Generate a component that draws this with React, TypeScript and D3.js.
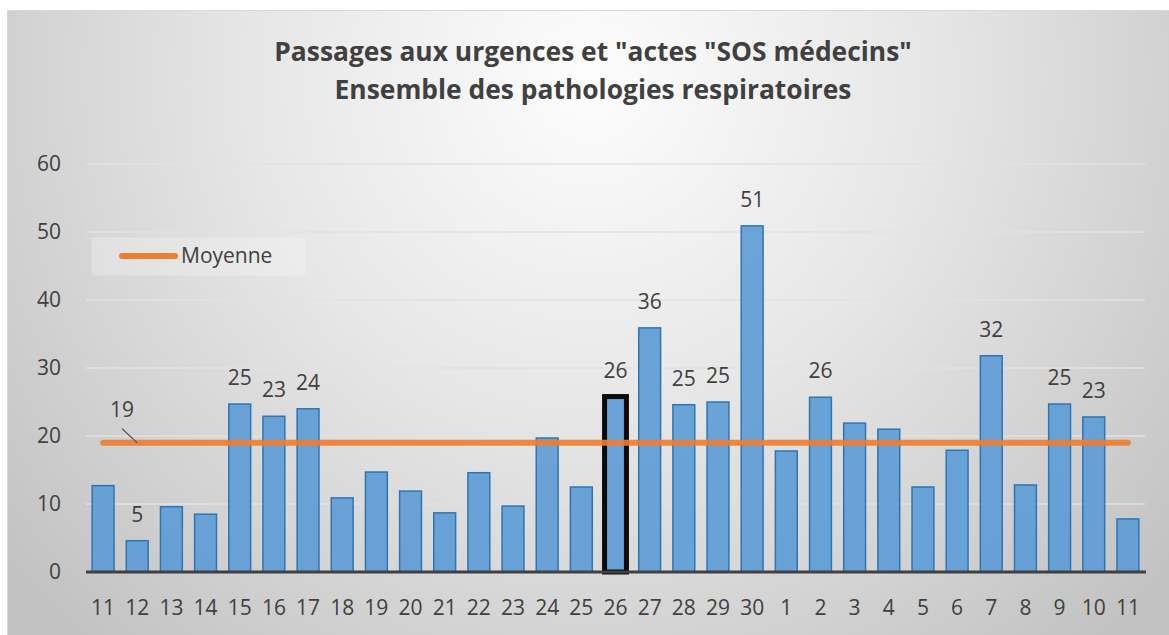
import React from "react";
import * as d3 from "d3";

// week numbers (two seasons overlap, hence repeated labels)
const weeks = ["11","12","13","14","15","16","17","18","19","20","21","22","23","24","25","26","27","28","29","30","1","2","3","4","5","6","7","8","9","10","11"];
const passages = [12.7,4.6,9.6,8.5,24.7,22.9,24.0,10.9,14.7,11.9,8.7,14.6,9.7,19.7,12.5,25.8,35.9,24.6,25.0,50.9,17.8,25.7,21.9,21.0,12.5,17.9,31.8,12.8,24.7,22.8,7.8];
const moyenne = 19;
// bars that carry a value label
const labelled = [1,4,5,6,15,16,17,18,19,21,26,28,29];
const highlighted = 15;
const yTicks = [0,10,20,30,40,50,60];

const W = 1169;
const H = 635;
const FONT = "'Open Sans', 'Noto Sans', sans-serif";
const TXT = "#404040";

export default function App() {
  const margin = { left: 86, right: 1145, top: 164, bottom: 572 };
  const x = d3.scaleBand<number>()
    .domain(d3.range(weeks.length))
    .range([margin.left, margin.right])
    .paddingInner(0.36)
    .paddingOuter(0.18);
  const y = d3.scaleLinear().domain([0, 60]).range([margin.bottom, margin.top]);
  const cx = (i: number) => (x(i) as number) + x.bandwidth() / 2;

  const meanLine = d3.line<number>()
    .x((i) => cx(i))
    .y(() => y(moyenne));

  return (
    <svg width={W} height={H} style={{ position: "absolute", left: 0, top: 0 }} fontFamily={FONT}>
      <defs>
        <radialGradient id="bg" gradientUnits="userSpaceOnUse" cx={590} cy={80} r={760}>
          <stop offset="0" stopColor="#fdfdfd" />
          <stop offset="0.45" stopColor="#e6e6e6" />
          <stop offset="1" stopColor="#c2c2c2" />
        </radialGradient>
      </defs>
      <rect width={W} height={H} fill="#ffffff" />
      <rect x={7.5} y={10.5} width={W} height={H} fill="url(#bg)" stroke="#d9d9d9" />

      <text x={593} y={61} textAnchor="middle" fontSize={26.4} fontWeight="bold" fill={TXT}>
        Passages aux urgences et "actes "SOS médecins"
      </text>
      <text x={593} y={99} textAnchor="middle" fontSize={26.4} fontWeight="bold" fill={TXT}>
        Ensemble des pathologies respiratoires
      </text>

      {yTicks.map((t) => (
        <g key={t}>
          {t > 0 && (
            <line x1={margin.left} x2={margin.right} y1={y(t)} y2={y(t)} stroke="#e2e2e2" strokeWidth={1.5} />
          )}
          <text x={61} y={y(t)} dy="0.35em" textAnchor="end" fontSize={21} fill={TXT}>
            {t}
          </text>
        </g>
      ))}

      <rect x={91.5} y={237.5} width={214} height={38} fill="#ffffff" fillOpacity={0.25} />
      <line x1={122} x2={175} y1={256} y2={256} stroke="#ed7d31" strokeWidth={6} strokeLinecap="round" />
      <text x={181} y={256} dy="0.35em" fontSize={21} fill={TXT}>Moyenne</text>

      {passages.map((v, i) => (
        <rect
          key={i}
          x={x(i)}
          y={y(v)}
          width={x.bandwidth()}
          height={y(0) - y(v)}
          fill="#5b9bd5"
          fillOpacity={0.9}
          stroke={i === highlighted ? "#0a0a0a" : "#2e75b6"}
          strokeWidth={i === highlighted ? 5 : 1.5}
        />
      ))}

      <line x1={margin.left} x2={margin.right + 1} y1={y(0)} y2={y(0)} stroke="#404040" strokeWidth={3} />

      <path
        d={meanLine(d3.range(weeks.length)) as string}
        fill="none"
        stroke="#ed7d31"
        strokeOpacity={0.9}
        strokeWidth={6}
        strokeLinecap="round"
      />

      <line x1={cx(0) + 19} y1={y(moyenne) - 14} x2={cx(0) + 34} y2={y(moyenne)} stroke="#595959" strokeWidth={1.2} />
      <text x={cx(0) + 19} y={y(moyenne) - 26} textAnchor="middle" fontSize={21} fill={TXT}>
        {moyenne}
      </text>

      {labelled.map((i) => (
        <text key={i} x={cx(i)} y={y(passages[i]) - 19} textAnchor="middle" fontSize={21} fill={TXT}>
          {Math.round(passages[i])}
        </text>
      ))}

      {weeks.map((w, i) => (
        <text key={i} x={cx(i)} y={615} textAnchor="middle" fontSize={21} fill={TXT}>
          {w}
        </text>
      ))}
    </svg>
  );
}
